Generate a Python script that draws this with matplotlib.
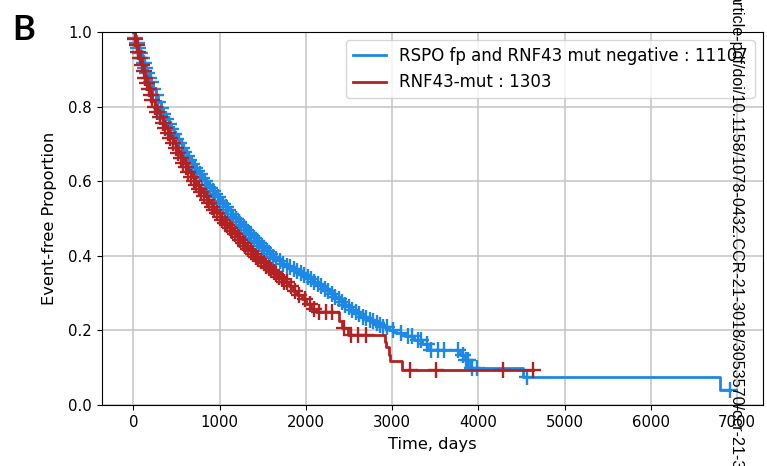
import numpy as np
from matplotlib import pyplot as plt

# Kaplan-Meier curves (time in days, event-free proportion)
blue_label = "RSPO fp and RNF43 mut negative : 11107"
blue_t = [0, 20, 40, 60, 80, 100, 120, 140, 160, 180, 200, 230, 260, 290, 320,
          350, 380, 410, 440, 470, 500, 530, 560, 590, 620, 650, 680, 710, 740,
          770, 800, 830, 860, 890, 920, 950, 980, 1010, 1040, 1070, 1100, 1130,
          1160, 1190, 1220, 1250, 1280, 1310, 1340, 1370, 1400, 1430, 1460,
          1490, 1520, 1550, 1580, 1620, 1660, 1700, 1740, 1780, 1820, 1860,
          1900, 1940, 1980, 2020, 2060, 2100, 2140, 2180, 2220, 2260, 2300,
          2340, 2380, 2420, 2460, 2500, 2540, 2580, 2620, 2660, 2700, 2740,
          2780, 2820, 2860, 2900, 2970, 3050, 3150, 3250, 3350, 3420, 3790,
          3850, 3900, 4512, 6799, 6915]
blue_s = [1.000, 0.985, 0.971, 0.957, 0.943, 0.930, 0.917, 0.904, 0.891, 0.878,
          0.866, 0.848, 0.830, 0.813, 0.796, 0.781, 0.767, 0.753, 0.740, 0.727,
          0.714, 0.702, 0.690, 0.678, 0.667, 0.656, 0.646, 0.636, 0.627, 0.618,
          0.609, 0.600, 0.591, 0.582, 0.574, 0.565, 0.557, 0.548, 0.540, 0.531,
          0.522, 0.513, 0.505, 0.498, 0.490, 0.483, 0.476, 0.469, 0.462, 0.455,
          0.448, 0.441, 0.434, 0.427, 0.420, 0.413, 0.405, 0.398, 0.391, 0.385,
          0.379, 0.374, 0.369, 0.364, 0.359, 0.354, 0.349, 0.343, 0.337, 0.331,
          0.325, 0.319, 0.312, 0.305, 0.297, 0.290, 0.283, 0.276, 0.269, 0.262,
          0.256, 0.250, 0.243, 0.237, 0.232, 0.228, 0.224, 0.220, 0.215, 0.210,
          0.200, 0.193, 0.185, 0.174, 0.163, 0.147, 0.135, 0.120, 0.099, 0.076,
          0.040, 0.040]
blue_tail_censors = [2940, 3010, 3100, 3180, 3230, 3300, 3330, 3400, 3450,
                     3530, 3600, 3765, 3820, 3860, 3880, 3930, 3980, 4560, 6915]

red_label = "RNF43-mut : 1303"
red_t = [0, 20, 40, 60, 80, 100, 120, 140, 160, 180, 200, 220, 250, 280, 310,
         340, 370, 400, 430, 460, 490, 520, 550, 580, 610, 640, 670, 700, 730,
         760, 790, 820, 850, 880, 910, 940, 970, 1000, 1030, 1060, 1090, 1120,
         1150, 1180, 1210, 1240, 1270, 1300, 1330, 1360, 1390, 1420, 1450,
         1480, 1510, 1540, 1570, 1600, 1630, 1660, 1690, 1720, 1750, 1800,
         1850, 1900, 1960, 2000, 2060, 2120, 2380, 2420, 2490, 2913, 2935,
         2960, 2975, 3110, 4630]
red_s = [1.000, 0.982, 0.965, 0.947, 0.930, 0.912, 0.895, 0.878, 0.862, 0.847,
         0.832, 0.819, 0.800, 0.786, 0.771, 0.757, 0.743, 0.729, 0.715, 0.702,
         0.689, 0.676, 0.663, 0.650, 0.637, 0.624, 0.612, 0.601, 0.590, 0.580,
         0.570, 0.560, 0.550, 0.541, 0.532, 0.523, 0.514, 0.505, 0.497, 0.489,
         0.482, 0.474, 0.466, 0.458, 0.450, 0.443, 0.435, 0.427, 0.419, 0.412,
         0.405, 0.398, 0.392, 0.386, 0.380, 0.374, 0.368, 0.362, 0.356, 0.350,
         0.344, 0.337, 0.330, 0.318, 0.305, 0.295, 0.283, 0.270, 0.258, 0.250,
         0.225, 0.206, 0.188, 0.170, 0.155, 0.135, 0.118, 0.0925, 0.0925]
red_tail_censors = [1780, 1830, 1870, 1920, 1990, 2050, 2100, 2150, 2230,
                    2300, 2440, 2520, 2600, 2700, 3206, 3515, 4281, 4630]

blue_color = "#1e88e5"
red_color = "#b22222"


def step_value(tk, sk, t):
    idx = np.searchsorted(tk, t, side="right") - 1
    return np.asarray(sk)[idx]


def draw_km(ax, tk, sk, dense_until, tail, color, label):
    tk = np.array(tk)
    sk = np.array(sk)
    ax.step(tk, sk, where="post", color=color, lw=2, label=label)
    ct = np.concatenate([tk[(tk > 0) & (tk <= dense_until)], tail])
    ax.plot(ct, step_value(tk, sk, ct), "+", color=color, ms=11, mew=1.7)


plt.rcParams["font.size"] = 10.7
fig = plt.figure(figsize=(7.67, 4.66), dpi=100)
ax = fig.add_axes([0.1326, 0.1309, 0.8622, 0.8004])

draw_km(ax, blue_t, blue_s, 2900, blue_tail_censors, blue_color, blue_label)
draw_km(ax, red_t, red_s, 1750, red_tail_censors, red_color, red_label)

ax.set_xlim(-366, 7300)
ax.set_ylim(0, 1.0)
ax.set_xticks([0, 1000, 2000, 3000, 4000, 5000, 6000, 7000])
ax.set_yticks([0.0, 0.2, 0.4, 0.6, 0.8, 1.0])
ax.grid(True, color="#c4c4c4", lw=1.1)
ax.set_axisbelow(True)
ax.set_xlabel("Time, days", fontsize=11.7, labelpad=5)
ax.set_ylabel("Event-free Proportion", fontsize=11.7, labelpad=8)
ax.legend(loc="upper right", fontsize=12)

fig.text(12 / 767, 1 - 40 / 466, "B", fontsize=25, fontweight="bold",
         family="Lato", ha="left", va="baseline")
fig.text(0.96, 1.015,
         "article-pdf/doi/10.1158/1078-0432.CCR-21-3018/3053570/ccr-21-3018.pdf",
         rotation=270, rotation_mode="anchor", ha="left", va="center",
         family="Liberation Sans", fontsize=11.6, color="black")

fig.savefig("out.png", dpi=100)
